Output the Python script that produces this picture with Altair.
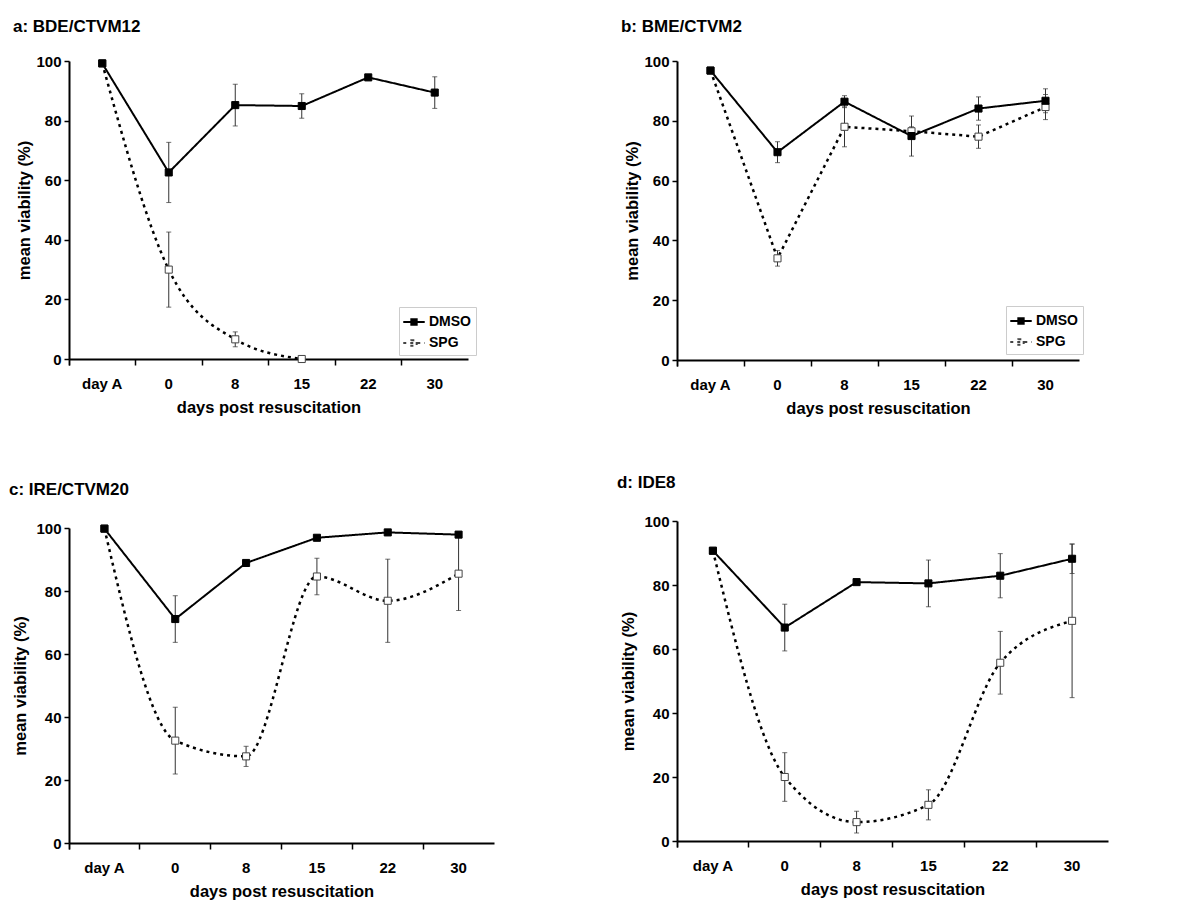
import altair as alt
import pandas as pd

FONT = "Liberation Sans"

days = ["day A", "0", "8", "15", "22", "30"]
series_names = ["DMSO", "SPG"]

titles = ["a: BDE/CTVM12", "b: BME/CTVM2", "c: IRE/CTVM20", "d: IDE8"]
x_title = "days post resuscitation"
y_title = "mean viability (%)"

# panel a
a_dmso_mean = [99.2, 62.6, 85.2, 84.9, 94.5, 89.4]
a_dmso_err = [None, 10.1, 7.0, 4.1, 0.8, 5.3]
a_spg_mean = [99.2, 30.0, 6.6, 0.0, None, None]
a_spg_err = [None, 12.6, 2.5, None, None, None]

# panel b
b_dmso_mean = [96.8, 69.5, 86.4, 74.9, 84.1, 86.7]
b_dmso_err = [None, 3.5, 2.0, 6.7, 3.9, 4.0]
b_spg_mean = [96.8, 34.0, 78.0, 76.5, 74.7, 84.6]
b_spg_err = [None, 2.6, 6.7, 1.5, 3.9, 4.2]

# panel c
c_dmso_mean = [99.8, 71.1, 88.9, 96.9, 98.6, 97.9]
c_dmso_err = [None, 7.4, 0.8, 0.8, 0.5, 0.8]
c_spg_mean = [99.8, 32.5, 27.5, 84.6, 76.9, 85.5]
c_spg_err = [None, 10.6, 3.2, 5.8, 13.2, 11.7]

# panel d
d_dmso_mean = [90.7, 66.7, 80.9, 80.5, 82.9, 88.2]
d_dmso_err = [None, 7.3, 0.8, 7.3, 6.9, 4.6]
d_spg_mean = [90.7, 20.0, 5.9, 11.3, 55.7, 68.8]
d_spg_err = [None, 7.6, 3.4, 4.7, 9.8, 24.0]

LEGEND_SYMBOL = "M-1.2,0H1.2M-0.3,-0.3H0.3V0.3H-0.3Z"


def build_df(dmso_mean, dmso_err, spg_mean, spg_err):
    rows = []
    for s, means, errs in [("SPG", spg_mean, spg_err), ("DMSO", dmso_mean, dmso_err)]:
        for d, m, e in zip(days, means, errs):
            if m is None:
                continue
            rows.append(
                dict(
                    day=d,
                    series=s,
                    mean=m,
                    lo=(m - e) if e is not None else None,
                    hi=(m + e) if e is not None else None,
                )
            )
    return pd.DataFrame(rows)


def panel(title, dmso_mean, dmso_err, spg_mean, spg_err, width, height,
          lx, ly, spg_interp, title_offset, ytitle_pad):
    df = build_df(dmso_mean, dmso_err, spg_mean, spg_err)
    x = alt.X(
        "day:N",
        sort=days,
        bandPosition=0.5,
        scale=alt.Scale(type="band", domain=days, paddingInner=0, paddingOuter=0),
        axis=alt.Axis(
            title=x_title,
            bandPosition=0,
            tickExtra=True,
            labelAngle=0,
            labelPadding=11,
            titlePadding=8,
            tickSize=6,
        ),
    )
    yaxis = alt.Axis(
        title=y_title,
        values=[0, 20, 40, 60, 80, 100],
        grid=False,
        labelPadding=3,
        titlePadding=ytitle_pad,
        tickSize=5,
    )
    yscale = alt.Scale(domain=[0, 100], nice=False)
    leg = alt.Legend(
        title=None,
        orient="none",
        legendX=lx,
        legendY=ly,
        symbolType=LEGEND_SYMBOL,
        symbolSize=320,
        symbolStrokeWidth=2,
        labelFont=FONT,
        labelFontSize=14,
        labelFontWeight="bold",
        labelColor="black",
        strokeColor="#cccccc",
        fillColor="white",
        padding=5,
        rowPadding=4,
        labelOffset=5,
    )
    dash = alt.StrokeDash(
        "series:N",
        scale=alt.Scale(domain=series_names, range=[[1, 0], [3, 4]]),
        legend=leg,
    )
    base = alt.Chart(df)
    err = base.transform_filter("isValid(datum.lo)")
    rules = err.mark_rule(color="#333333", strokeWidth=1).encode(
        x=x, y=alt.Y("lo:Q", scale=yscale, axis=yaxis), y2="hi:Q"
    )
    cap_lo = err.mark_tick(color="#333333", thickness=1, size=5).encode(
        x=x, y=alt.Y("lo:Q", scale=yscale, axis=yaxis)
    )
    cap_hi = err.mark_tick(color="#333333", thickness=1, size=5).encode(
        x=x, y=alt.Y("hi:Q", scale=yscale, axis=yaxis)
    )
    line_dmso = base.transform_filter("datum.series == 'DMSO'").mark_line(
        color="black", strokeWidth=2
    ).encode(x=x, y=alt.Y("mean:Q", scale=yscale, axis=yaxis), strokeDash=dash)
    line_spg = base.transform_filter("datum.series == 'SPG'").mark_line(
        color="black", strokeWidth=2.5, interpolate=spg_interp
    ).encode(x=x, y=alt.Y("mean:Q", scale=yscale, axis=yaxis), strokeDash=dash)
    pts = base.mark_point(shape="square", size=50, opacity=1, strokeWidth=1).encode(
        x=x,
        y=alt.Y("mean:Q", scale=yscale, axis=yaxis),
        fill=alt.Fill(
            "series:N",
            scale=alt.Scale(domain=series_names, range=["black", "white"]),
            legend=leg,
        ),
        stroke=alt.Stroke(
            "series:N",
            scale=alt.Scale(domain=series_names, range=["black", "#444444"]),
            legend=leg,
        ),
    )
    return alt.layer(rules, cap_lo, cap_hi, line_dmso, line_spg, pts).properties(
        width=width,
        height=height,
        title=alt.TitleParams(
            title,
            anchor="start",
            frame="bounds",
            font=FONT,
            fontSize=17,
            fontWeight="bold",
            color="black",
            offset=title_offset,
            dx=-4,
        ),
    )


pa = panel(titles[0], a_dmso_mean, a_dmso_err, a_spg_mean, a_spg_err, 399, 298, 330, 246, "monotone", 18, 3)
pb = panel(titles[1], b_dmso_mean, b_dmso_err, b_spg_mean, b_spg_err, 402, 299, 329, 245, "linear", 18, 3)
pc = panel(titles[2], c_dmso_mean, c_dmso_err, c_spg_mean, c_spg_err, 425, 315, 349, 255, "monotone", 22, 7)
pd_ = panel(titles[3], d_dmso_mean, d_dmso_err, d_spg_mean, d_spg_err, 431, 320, 355, 261, "monotone", 22, 7)

col1 = alt.vconcat(pa, pc, spacing=65)
col2 = alt.vconcat(pb, pd_, spacing=57)

chart = (
    alt.hconcat(col1, col2, spacing=122)
    .resolve_scale(fill="independent", stroke="independent", strokeDash="independent")
    .resolve_legend(fill="independent", stroke="independent", strokeDash="independent")
    .configure_view(stroke=None)
    .configure_axis(
        labelFont=FONT,
        labelFontSize=15,
        labelFontWeight="bold",
        labelColor="black",
        titleFont=FONT,
        titleFontSize=16.5,
        titleFontWeight="bold",
        titleColor="black",
        domainColor="black",
        domainWidth=2,
        tickColor="black",
        tickWidth=1.5,
    )
    .properties(background="white", padding={"left": 0, "top": 10, "right": 5, "bottom": 5})
)

chart.save("out.html", embed_options={"renderer": "svg", "actions": False})
